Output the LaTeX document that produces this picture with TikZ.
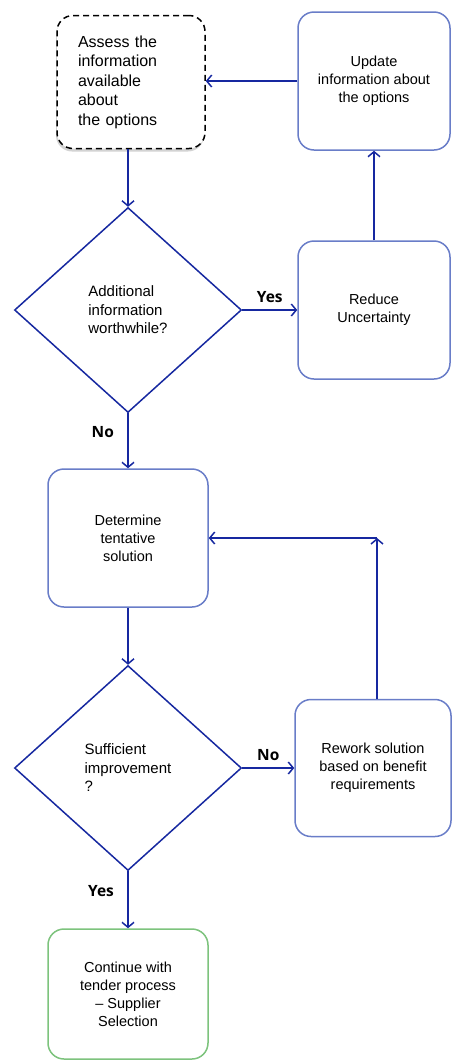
\documentclass[tikz,border=0pt]{standalone}
\usepackage{fontspec}
\setmainfont{Liberation Sans}
\newfontfamily\answerfont{Open Sans}
\usetikzlibrary{shapes.geometric, arrows.meta, shadows}
\definecolor{flowblue}{RGB}{22,40,160}
\definecolor{boxblue}{RGB}{105,125,200}
\definecolor{boxgreen}{RGB}{125,195,125}

\begin{document}
\begin{tikzpicture}[x=1pt, y=-1pt,
    >={Straight Barb[length=5pt,width=12pt]},
    flow/.style={draw=flowblue, line width=1.5pt, ->},
    stepbox/.style={draw=boxblue, fill=white, line width=1.5pt, rounded corners=16pt,
        align=center, inner sep=0pt, font=\fontsize{14.5}{18}\selectfont},
    choice/.style={diamond, draw=flowblue, line width=1.5pt, inner sep=0pt,
        minimum width=227pt, minimum height=205pt, align=left,
        font=\fontsize{15}{18.5}\selectfont},
    answer/.style={font=\answerfont\bfseries\fontsize{15.5}{17}\selectfont}]
    \useasboundingbox (0,0) rectangle (451,1061);

    % upper loop
    \node[stepbox, draw=black, dash pattern=on 6pt off 4pt, align=left, text width=106pt,
        minimum width=148pt, minimum height=133pt, font=\fontsize{16}{19.5}\selectfont,
        drop shadow={opacity=0.35, shadow xshift=-1pt, shadow yshift=-3pt}]
        (assess) at (131,82) {Assess the\\information\\available\\about\\the options};
    \node[stepbox, minimum width=152pt, minimum height=138pt] (update) at (374,81)
        {Update\\information about\\the options};
    \node[choice] (worth) at (128,310) {Additional\\information\\worthwhile?};
    \node[stepbox, minimum width=152pt, minimum height=138pt] (reduce) at (374,310)
        {Reduce\\Uncertainty};

    % lower loop
    \node[stepbox, minimum width=160pt, minimum height=138pt] (tentative) at (128,538)
        {Determine\\tentative\\solution};
    \node[choice] (improve) at (128,768) {Sufficient\\improvement\\?};
    \node[stepbox, minimum width=156pt, minimum height=137pt] (rework) at (373,768)
        {Rework solution\\based on benefit\\requirements};
    \node[stepbox, draw=boxgreen, minimum width=160pt, minimum height=130pt] (tender) at (128,994)
        {Continue with\\tender process\\-- Supplier\\Selection};

    \draw[flow] (update.west) -- (assess.east |- update.west);
    \draw[flow] (assess.south -| worth.north) -- (worth.north);
    \draw[flow] (worth.east) -- node[answer, above=3pt] (yes1) {Yes} (worth.east -| reduce.west);
    \draw[flow] (reduce.north) -- (update.south);
    \draw[flow] (worth.south) -- node[answer, left=10pt, pos=0.35] (no1) {No} (tentative.north);
    \draw[flow] (tentative.south) -- (improve.north);
    \draw[flow] (improve.east) -- node[answer, above=3pt] (no2) {No} (improve.east -| rework.west);
    \coordinate (bend) at ([xshift=4pt]rework.north |- tentative.east);
    \draw[flow] ([xshift=4pt]rework.north) -- (bend);
    \draw[flow] (bend) -- (tentative.east);
    \draw[flow] (improve.south) -- node[answer, left=10pt, pos=0.35] (yes2) {Yes} (tender.north);
\end{tikzpicture}
\end{document}
